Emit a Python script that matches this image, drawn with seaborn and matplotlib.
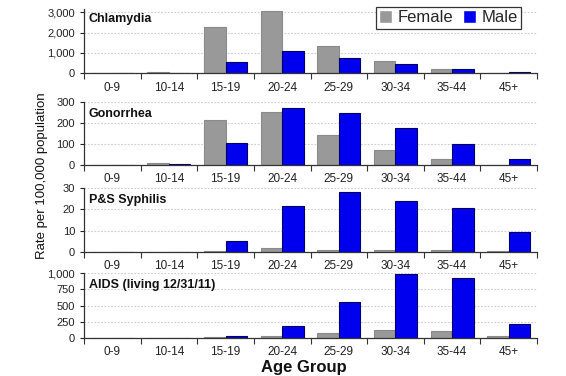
import numpy as np
import pandas as pd
import seaborn as sns
import matplotlib.pyplot as plt
from matplotlib.ticker import FuncFormatter, FixedLocator

age_groups = ['0-9', '10-14', '15-19', '20-24', '25-29', '30-34', '35-44', '45+']

chlamydia_f = [5, 60, 2290, 3080, 1360, 600, 210, 30]
chlamydia_m = [2, 15, 540, 1110, 770, 440, 200, 40]
gonorrhea_f = [1, 8, 213, 252, 142, 71, 28, 2]
gonorrhea_m = [0, 4, 106, 272, 245, 177, 98, 28]
syphilis_f = [0, 0, 0.3, 1.9, 1.0, 0.6, 0.8, 0.2]
syphilis_m = [0, 0, 5.2, 21.8, 28.4, 24.0, 20.6, 9.5]
aids_f = [1, 1, 5, 25, 78, 120, 100, 20]
aids_m = [1, 2, 30, 180, 550, 990, 920, 213]

panels = [
    ('Chlamydia', chlamydia_f, chlamydia_m, [0, 1000, 2000, 3000], 3150),
    ('Gonorrhea', gonorrhea_f, gonorrhea_m, [0, 100, 200, 300], 300),
    ('P&S Syphilis', syphilis_f, syphilis_m, [0, 10, 20, 30], 30),
    ('AIDS (living 12/31/11)', aids_f, aids_m, [0, 250, 500, 750, 1000], 1000),
]

sns.set_style('white')
plt.rcParams['font.family'] = ['Liberation Sans', 'DejaVu Sans']

fig = plt.figure(figsize=(5.66, 3.76), dpi=100)

# axes boxes in pixels: (zero line y, max y)
boxes = [(73.3, 9.3), (165, 101.7), (251.7, 188.3), (337.7, 273.3)]
left, right = 84, 537
W, H = 566, 376

colors = {'Female': '#999999', 'Male': '#0000ee'}
edges = {'Female': '#8a8a8a', 'Male': '#000066'}

for i, (name, f, m, ticks, ymax) in enumerate(panels):
    y0, y1 = boxes[i]
    ax = fig.add_axes([left / W, 1 - y0 / H, (right - left) / W, (y0 - y1) / H])
    df = pd.DataFrame({
        'age': age_groups * 2,
        'rate': f + m,
        'sex': ['Female'] * len(age_groups) + ['Male'] * len(age_groups),
    })
    sns.barplot(data=df, x='age', y='rate', hue='sex', palette=colors,
                width=0.76, ax=ax, legend=(i == 0), saturation=1)
    for cont, sex in zip(ax.containers, ['Female', 'Male']):
        for p in cont.patches:
            p.set_edgecolor(edges[sex])
            p.set_linewidth(0.8)

    ax.set_xlim(-0.5, 7.5)
    ax.set_ylim(0, ymax)
    ax.set_yticks(ticks)
    ax.yaxis.set_major_formatter(FuncFormatter(lambda v, p: f'{int(v):,}'))
    for t in ticks[1:]:
        ax.axhline(t, color='#cccccc', lw=0.8, ls=(0, (1.5, 1.5)), zorder=0)
    ax.set_axisbelow(True)

    ax.xaxis.set_minor_locator(FixedLocator(np.arange(-0.5, 8, 1)))
    ax.tick_params(axis='x', which='major', length=0, labelsize=8.5, pad=6, colors='#222222')
    ax.tick_params(axis='x', which='minor', length=4, width=0.8, direction='out', color='#333333', bottom=True)
    ax.tick_params(axis='y', length=3, width=0.8, direction='out', labelsize=8, colors='#222222', left=True)
    ax.set_xlabel('')
    ax.set_ylabel('')
    sns.despine(ax=ax)
    for s in ['left', 'bottom']:
        ax.spines[s].set_color('#333333')
        ax.spines[s].set_linewidth(0.9)

    title_y = [0.85, 0.80, 0.815, 0.82][i]
    ax.text(0.01, title_y, name, transform=ax.transAxes, fontsize=9,
            fontweight='bold', va='center', ha='left', color='#111111')

    if i == 0:
        leg = ax.legend(loc='upper right', bbox_to_anchor=(521 / W, 1 - 7 / H),
                        bbox_transform=fig.transFigure, ncol=2, fontsize=12,
                        frameon=True, fancybox=False, edgecolor='black',
                        handlelength=0.8, handleheight=0.8, handletextpad=0.3,
                        columnspacing=0.6, borderpad=0.2, borderaxespad=0,
                        title=None)
        leg.get_frame().set_linewidth(0.9)

fig.text(0.074, 0.532, 'Rate per 100,000 population', rotation=90,
         ha='center', va='center', fontsize=9.5, color='#111111')
fig.text(0.537, 0.022, 'Age Group', ha='center', va='center',
         fontsize=12, fontweight='bold', color='#111111')

fig.savefig('out.png', dpi=100)
